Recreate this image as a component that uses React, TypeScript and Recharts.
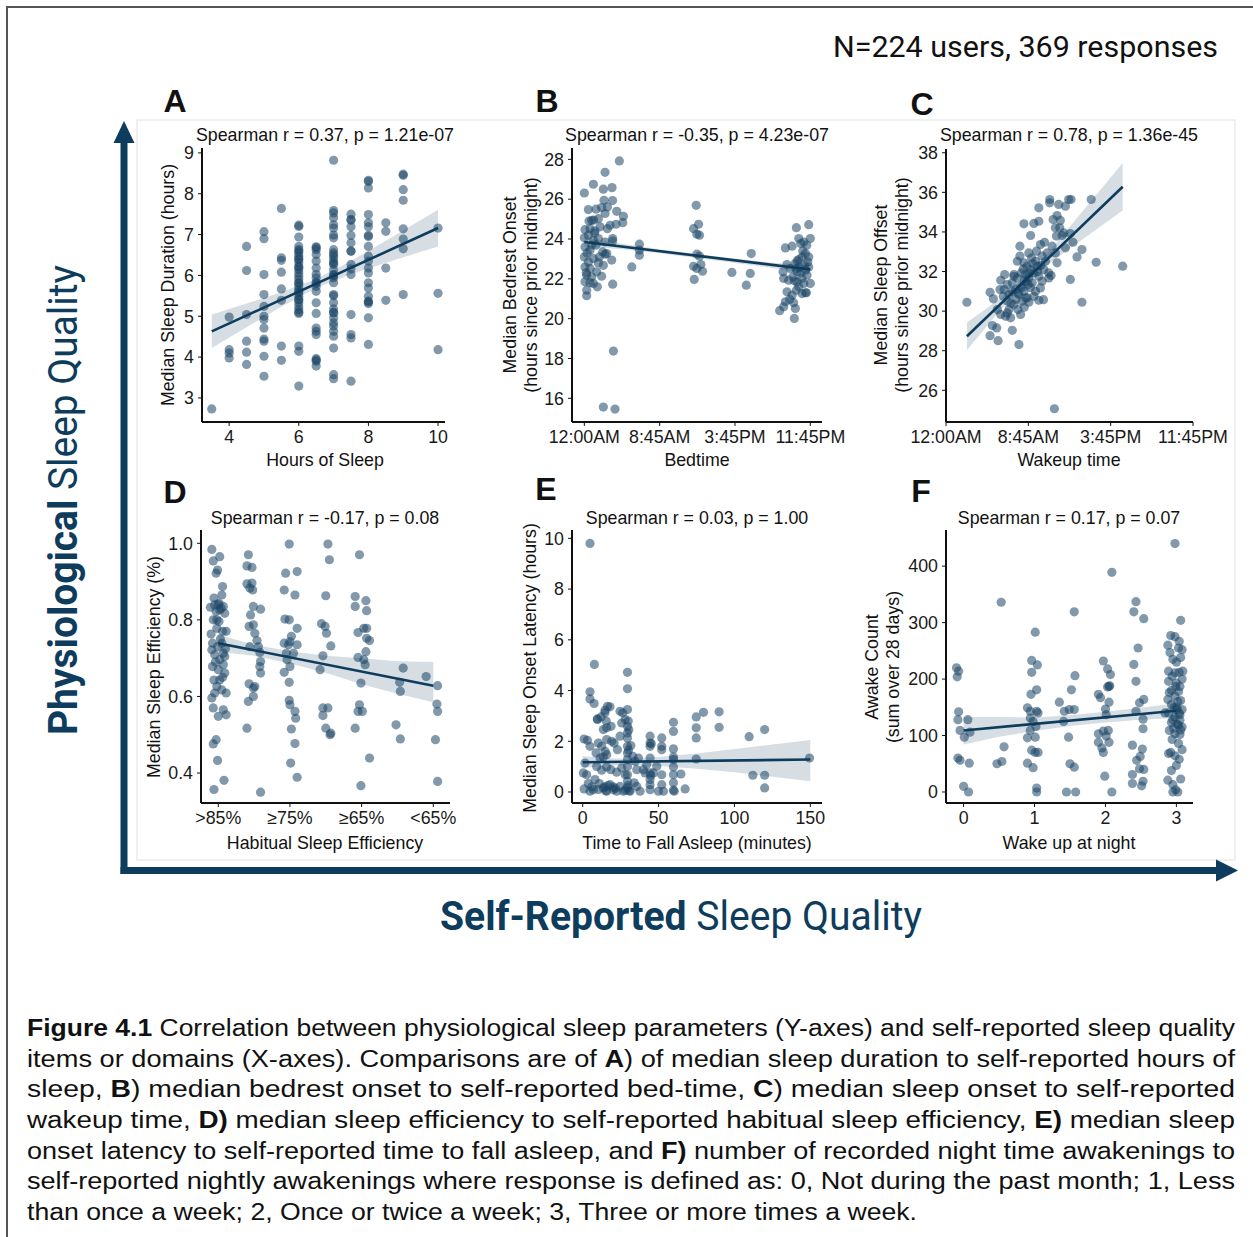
import React from 'react';
import { ScatterChart, Scatter, XAxis, YAxis } from 'recharts';

const NAVY = '#0e3c5d';
const DOT = '#1b4566';
const SANS = '"Liberation Sans", Arial, Helvetica, sans-serif';
const ROBOTO = 'Roboto, "Liberation Sans", sans-serif';
const FS = 17.8;

// A: hours of sleep vs median sleep duration
const A_POINTS: [number, number][] = [
  [3.5, 2.73], [4, 4.18], [4, 4.1], [4, 3.98], [4, 4.98],
  [4.5, 6.71], [4.5, 6.12], [4.5, 5.04], [4.5, 4.39], [4.5, 4.12], [4.5, 3.82],
  [5, 7.07], [5, 6.9], [5, 6.02], [5, 5.53], [5, 5.24], [5, 5.0], [5, 4.92], [5, 4.71], [5, 4.44], [5, 4.39], [5, 4.02], [5, 3.53],
  [5.5, 7.64], [5.5, 6.43], [5.5, 6.37], [5.5, 6.08], [5.5, 5.67], [5.5, 5.39], [5.5, 4.27], [5.5, 3.92],
  [6, 7.23], [6, 7.2], [6, 6.94], [6, 6.71], [6, 6.63], [6, 6.6], [6, 6.55], [6, 6.47], [6, 6.4], [6, 6.39], [6, 6.31], [6, 6.22], [6, 6.2],
  [6, 6.14], [6, 6.06], [6, 5.98], [6, 5.9], [6, 5.82], [6, 5.8], [6, 5.73], [6, 5.65], [6, 5.6], [6, 5.57], [6, 5.49], [6, 5.41], [6, 5.4],
  [6, 5.33], [6, 5.24], [6, 5.16], [6, 5.1], [6, 5.07], [6, 4.27], [6, 4.14], [6, 3.29],
  [6.5, 6.7], [6.5, 6.68], [6.5, 6.63], [6.5, 6.51], [6.5, 6.35], [6.5, 6.18], [6.5, 6.02], [6.5, 5.94], [6.5, 5.83], [6.5, 5.8],
  [6.5, 5.73], [6.5, 5.61], [6.5, 5.33], [6.5, 5.07], [6.5, 4.71], [6.5, 4.63], [6.5, 4.55], [6.5, 3.96], [6.5, 3.93], [6.5, 3.9], [6.5, 3.78],
  [7, 8.82], [7, 7.59], [7, 7.53], [7, 7.41], [7, 7.24], [7, 7.16], [7, 6.99], [7, 6.92], [7, 6.63], [7, 6.55], [7, 6.5], [7, 6.43],
  [7, 6.35], [7, 6.3], [7, 6.27], [7, 6.14], [7, 6.02], [7, 6.0], [7, 5.94], [7, 5.82], [7, 5.53], [7, 5.5], [7, 5.33], [7, 5.18],
  [7, 5.1], [7, 5.08], [7, 4.96], [7, 4.84], [7, 4.76], [7, 4.63], [7, 4.51], [7, 4.22], [7, 3.57], [7, 3.47],
  [7.5, 7.5], [7.5, 7.37], [7.5, 7.35], [7.5, 7.19], [7.5, 6.98], [7.5, 6.8], [7.5, 6.6], [7.5, 6.59], [7.5, 6.27], [7.5, 6.16],
  [7.5, 6.02], [7.5, 5.04], [7.5, 4.55], [7.5, 4.47], [7.5, 3.41],
  [8, 8.33], [8, 8.3], [8, 8.14], [8, 7.49], [8, 7.29], [8, 7.19], [8, 6.98], [8, 6.95], [8, 6.71], [8, 6.47], [8, 6.35], [8, 6.18],
  [8, 6.06], [8, 5.82], [8, 5.69], [8, 5.49], [8, 5.37], [8, 5.35], [8, 5.31], [8, 4.96], [8, 4.31],
  [8.5, 7.29], [8.5, 7.08], [8.5, 6.18], [8.5, 5.39],
  [9, 8.48], [9, 8.45], [9, 8.1], [9, 7.84], [9, 7.14], [9, 6.89], [9, 6.65], [9, 5.53],
  [10, 7.16], [10, 5.56], [10, 4.18],
];
const A_FIT: [number, number][] = [[3.5, 4.63], [10, 7.16]];
const A_BAND: [number, number, number][] = [
  [3.5, 4.22, 5.04], [4.5, 4.73, 5.31], [5.5, 5.23, 5.59], [6.5, 5.69, 5.91],
  [7.5, 6.03, 6.35], [8.5, 6.31, 6.85], [10, 6.71, 7.61],
];

// B: bedtime (hours) vs median bedrest onset
const B_POINTS: [number, number][] = [
  [0, 26.31], [0.96, 26.75], [2.2, 27.35], [3.72, 27.92], [2.02, 26.5], [2.94, 26.58], [2.09, 25.94], [3.0, 25.93],
  [0.43, 25.48], [1.24, 25.5], [1.84, 25.58], [2.45, 25.61], [3.44, 25.39], [4.15, 25.14], [0.78, 24.94], [1.49, 25.02],
  [2.2, 25.28], [2.73, 24.69], [3.37, 24.74], [4.08, 24.82], [0.07, 24.47], [0.6, 24.52], [1.13, 24.41], [1.67, 24.61],
  [2.45, 24.52], [0, 24.06], [0.43, 24.19], [0.96, 23.94], [1.49, 24.02], [2.2, 23.85], [3.01, 24.02], [3.01, 23.9],
  [0.07, 23.6], [0.6, 23.44], [1.24, 23.69], [1.95, 23.35], [2.38, 23.27], [0, 23.1], [0.43, 22.85], [0.96, 23.02],
  [1.49, 22.8], [2.2, 23.24], [2.91, 22.94], [0.07, 22.6], [0.6, 22.52], [1.31, 22.35], [2.02, 22.68], [0.25, 22.18],
  [0.78, 22.1], [1.84, 22.13], [0.07, 21.85], [0.96, 21.77], [1.38, 21.6], [3.01, 21.73], [0.25, 21.43], [0.25, 21.15],
  [0.5, 24.9], [1.0, 24.95], [0.3, 23.3], [0.8, 23.7], [1.1, 24.3], [0.2, 22.3], [1.6, 23.1], [0.6, 21.8],
  [3.09, 18.37], [2.02, 15.56], [3.26, 15.46],
  [5.04, 22.6], [5.85, 23.74], [5.85, 23.44], [5.85, 23.19],
  [11.6, 24.52], [11.88, 25.69], [12.13, 24.74], [11.95, 24.24], [12.23, 24.19], [11.6, 22.63], [11.95, 22.52],
  [12.38, 22.72], [11.67, 21.97], [12.23, 23.14], [11.95, 23.24], [12.55, 22.38],
  [15.67, 22.32], [17.62, 22.27], [17.2, 21.68], [17.73, 23.27],
  [21.35, 23.55], [22.06, 23.64], [22.52, 24.57], [23.83, 24.72], [22.77, 24.02], [23.3, 23.85], [24.0, 24.02],
  [22.98, 23.77], [23.62, 23.69], [21.1, 22.35], [21.52, 22.72], [21.88, 22.52], [22.41, 22.77], [22.77, 22.97],
  [23.12, 23.1], [23.48, 23.27], [23.83, 23.1], [21.17, 22.02], [21.7, 21.93], [22.16, 22.1], [22.59, 21.85],
  [23.12, 22.02], [23.65, 22.18], [24.0, 21.77], [21.52, 21.35], [22.06, 21.18], [22.52, 21.43], [23.12, 21.26],
  [23.58, 21.3], [21.35, 20.85], [21.81, 20.96], [22.23, 20.8], [20.74, 20.4], [21.17, 20.6], [22.41, 20.51],
  [22.3, 20.01], [22.87, 22.6], [23.37, 22.68], [23.83, 22.6], [22.59, 22.35], [23.48, 22.43], [23.73, 22.85],
  [23.3, 21.77], [22.77, 21.6], [23.48, 21.3], [22.6, 22.9], [23.0, 22.3], [22.3, 21.9], [23.2, 23.4], [22.5, 22.5],
];
const B_FIT: [number, number][] = [[0, 23.85], [24, 22.47]];
const B_BAND: [number, number, number][] = [
  [0, 23.62, 24.08], [4, 23.48, 23.76], [8, 23.28, 23.48], [12, 23.04, 23.24],
  [16, 22.8, 23.02], [20, 22.55, 22.81], [24, 22.26, 22.68],
];

// C: wakeup time (hours) vs median sleep offset
const C_POINTS: [number, number][] = [
  [2.03, 30.45], [4.28, 30.95], [4.6, 30.62], [4.51, 29.27], [4.93, 29.15], [4.28, 28.76], [5.06, 28.51], [6.44, 29.03],
  [7.09, 28.31], [10.53, 25.07], [5.32, 31.56], [5.7, 31.85], [5.25, 31.09], [5.57, 30.75], [5.96, 30.5], [6.12, 30.08],
  [4.99, 30.08], [5.32, 29.83], [5.8, 29.74], [6.28, 29.66], [6.6, 31.85], [6.44, 31.43], [6.93, 31.68], [6.77, 31.09],
  [7.25, 31.26], [7.09, 30.84], [7.57, 31.0], [7.41, 30.5], [7.89, 30.67], [6.6, 30.33], [6.99, 30.08], [6.12, 30.84],
  [7.18, 32.78], [6.93, 32.52], [7.57, 32.44], [7.18, 33.28], [7.5, 32.13], [7.89, 32.27], [7.73, 31.85], [8.22, 32.1],
  [8.05, 31.68], [8.38, 31.43], [8.54, 31.93], [8.86, 32.27], [9.02, 31.76], [9.18, 31.17], [8.7, 31.0], [8.05, 30.45],
  [9.02, 30.55], [7.57, 34.41], [8.22, 33.82], [8.54, 34.43], [9.02, 35.22], [9.02, 34.54], [9.18, 33.36], [9.34, 32.78],
  [9.57, 33.48], [9.67, 32.52], [9.83, 32.94], [10.08, 35.64], [10.08, 35.47], [9.99, 31.68], [10.21, 31.8], [10.31, 33.28],
  [10.41, 34.63], [10.63, 34.21], [10.79, 34.83], [11.11, 34.58], [10.95, 35.39], [11.6, 35.3], [11.92, 35.64], [12.15, 35.64],
  [10.73, 33.79], [11.28, 33.82], [11.6, 33.2], [12.08, 33.92], [12.34, 33.48], [12.08, 31.6], [12.73, 32.74], [13.21, 33.11],
  [13.21, 30.45], [14.11, 35.64], [14.59, 32.47], [17.17, 32.27], [11.05, 34.21], [11.44, 33.95], [10.63, 32.94], [10.79, 32.44],
  [9.5, 32.1], [9.34, 31.51], [8.79, 33.03], [8.05, 32.94], [8.31, 32.69], [6.6, 31.76], [5.96, 31.34], [5.64, 31.09],
  [6.44, 31.0], [8.54, 30.75], [9.47, 30.58], [7.25, 29.83], [5.96, 29.91], [7.99, 31.34], [7.73, 30.67], [7.63, 31.56],
  [7.31, 31.93], [8.7, 32.52], [9.99, 31.93], [7.4, 31.2], [7.8, 31.5], [8.1, 31.9], [8.4, 32.4], [7.0, 30.9],
  [6.8, 30.6], [8.9, 32.0], [7.6, 30.2], [6.3, 30.4], [8.2, 31.2], [9.2, 32.3],
];
const C_FIT: [number, number][] = [[2.03, 28.73], [17.17, 36.28]];
const C_BAND: [number, number, number][] = [
  [2.03, 28.03, 29.43], [4, 29.26, 30.16], [6, 30.49, 30.93], [8, 31.56, 31.86],
  [10, 32.4, 33.0], [12, 33.15, 34.25], [14, 33.9, 35.5], [17.17, 35.08, 37.48],
];

// D: habitual sleep efficiency category vs median sleep efficiency
const D_POINTS: [number, number][] = [
  [-0.09, 0.984], [-0.07, 0.954], [0.02, 0.965], [-0.01, 0.93], [-0.03, 0.922], [0.06, 0.887], [-0.06, 0.857], [-0.11, 0.833],
  [-0.05, 0.839], [0.01, 0.843], [0.07, 0.835], [-0.07, 0.8], [0.01, 0.796], [0.09, 0.817], [-0.1, 0.763], [0.06, 0.77],
  [0.11, 0.77], [-0.08, 0.739], [-0.01, 0.73], [0.05, 0.739], [-0.09, 0.722], [-0.05, 0.709], [0.02, 0.696], [0.09, 0.704],
  [-0.08, 0.678], [0, 0.67], [0.07, 0.683], [-0.06, 0.643], [0.02, 0.643], [0.09, 0.661], [-0.02, 0.626], [0.05, 0.617],
  [0.11, 0.609], [-0.09, 0.596], [-0.05, 0.609], [-0.07, 0.57], [0, 0.548], [0.07, 0.565], [0.11, 0.552], [-0.03, 0.487],
  [-0.07, 0.476], [-0.01, 0.433], [-0.06, 0.357], [0.08, 0.381], [0.07, 0.713], [-0.02, 0.778], [0.02, 0.826], [0.05, 0.865],
  [-0.03, 0.822], [0.0, 0.84], [0.04, 0.83], [-0.02, 0.8], [0.03, 0.75], [-0.04, 0.69], [0.06, 0.65], [0.1, 0.725],
  [0.42, 0.97], [0.4, 0.941], [0.47, 0.937], [0.4, 0.894], [0.47, 0.896], [0.44, 0.883], [0.48, 0.878], [0.49, 0.835],
  [0.45, 0.813], [0.59, 0.828], [0.43, 0.783], [0.49, 0.787], [0.51, 0.765], [0.54, 0.746], [0.44, 0.73], [0.56, 0.73],
  [0.58, 0.715], [0.59, 0.691], [0.58, 0.678], [0.59, 0.661], [0.43, 0.633], [0.49, 0.622], [0.51, 0.626], [0.42, 0.587],
  [0.49, 0.6], [0.4, 0.517], [0.59, 0.35],
  [0.99, 0.998], [0.94, 0.922], [1.1, 0.926], [0.92, 0.878], [1.07, 0.865], [0.93, 0.802], [0.99, 0.8], [1.1, 0.778],
  [0.92, 0.739], [0.98, 0.735], [1.0, 0.743], [1.1, 0.735], [1.02, 0.757], [0.95, 0.713], [1.05, 0.713], [0.96, 0.696],
  [1.0, 0.678], [0.92, 0.663], [0.99, 0.637], [0.99, 0.59], [1.0, 0.578], [1.07, 0.561], [1.08, 0.543], [1.02, 0.515],
  [1.07, 0.477], [1.01, 0.426], [1.1, 0.389],
  [1.53, 0.998], [1.55, 0.957], [1.5, 0.863], [1.44, 0.79], [1.49, 0.783], [1.51, 0.765], [1.57, 0.732], [1.46, 0.706],
  [1.42, 0.67], [1.46, 0.57], [1.53, 0.57], [1.46, 0.55], [1.5, 0.517], [1.56, 0.5], [1.57, 0.504],
  [1.97, 0.97], [1.91, 0.861], [1.91, 0.835], [2.06, 0.85], [2.07, 0.824], [2.03, 0.778], [2.07, 0.778], [1.95, 0.767],
  [2.07, 0.752], [2.11, 0.746], [2.06, 0.717], [1.95, 0.702], [2.03, 0.696], [2.05, 0.683], [1.99, 0.635], [1.97, 0.578],
  [1.95, 0.561], [2.01, 0.561], [1.91, 0.517], [2.11, 0.439], [1.99, 0.367],
  [2.58, 0.674], [2.53, 0.637], [2.54, 0.613], [2.9, 0.652], [2.48, 0.526], [2.54, 0.489],
  [3.06, 0.628], [3.05, 0.58], [3.06, 0.561], [3.03, 0.487], [3.06, 0.378],
];
const D_TICK_LABELS = ['>85%', '≥75%', '≥65%', '<65%'];
const D_FIT: [number, number][] = [[0, 0.739], [3, 0.628]];
const D_BAND: [number, number, number][] = [
  [0, 0.717, 0.761], [0.5, 0.706, 0.735], [1, 0.686, 0.718], [1.5, 0.662, 0.706],
  [2, 0.632, 0.7], [2.5, 0.607, 0.692], [3, 0.585, 0.69],
];

// E: time to fall asleep (min) vs median sleep onset latency
const E_POINTS: [number, number][] = [
  [4.8, 9.8], [7.7, 5.03], [4.8, 3.95], [4.8, 3.67], [7.5, 3.49], [0.9, 2.09], [3.1, 2.04], [4.8, 1.8], [1.5, 1.14],
  [0.4, 0.75], [2.6, 0.68], [0.9, 0.12], [3.7, 0.33], [4.8, 0.03], [7.0, 0.09], [9.7, 2.88], [12.1, 2.96], [14.7, 3.22],
  [14.7, 3.12], [16.3, 3.38], [18.0, 3.36], [9.7, 2.86], [13.6, 2.46], [15.8, 2.53], [10.3, 1.93], [12.5, 1.8], [15.8, 2.07],
  [8.8, 1.54], [11.4, 1.34], [13.6, 1.38], [15.8, 1.47], [9.2, 1.01], [12.5, 0.86], [15.8, 0.99], [18.5, 0.88], [8.1, 0.49],
  [11.0, 0.33], [13.6, 0.16], [15.8, 0.03], [18.0, 0.29], [20.2, 0.09], [22.4, 0.03], [24.6, 0.22], [26.8, 0.03], [18.7, 2.59],
  [19.1, 2.0], [20.7, 1.93], [22.9, 1.67], [24.6, 2.2], [25.7, 2.72], [26.4, 3.12], [24.6, 3.18], [22.4, 0.78], [25.7, 0.95],
  [28.0, 0.68], [29.5, 4.72], [29.5, 4.07], [29.5, 3.25], [28.0, 2.86], [29.5, 2.59], [29.5, 2.33], [29.5, 2.13], [29.5, 1.8],
  [29.5, 1.54], [29.5, 1.28], [29.5, 1.01], [29.5, 0.68], [29.5, 0.42], [29.5, 0.16], [31.2, 0.03], [28.0, 0.07], [31.7, 1.83],
  [33.0, 1.41], [34.5, 1.21], [35.6, 0.88], [36.7, 1.34], [37.8, 0.03], [33.9, 0.36], [35.6, 0.22], [40.0, 0.88], [41.1, 0.75],
  [42.2, 1.08], [44.4, 2.2], [44.4, 1.93], [44.4, 1.8], [44.4, 1.34], [44.4, 0.75], [44.4, 0.49], [44.4, 0.29], [44.4, 0.09],
  [46.6, 0.75], [49.9, 0.03], [52.1, 2.13], [52.1, 1.8], [52.1, 1.67], [52.1, 0.68], [52.1, 0.29], [53.2, 0.03], [48.8, 1.01],
  [59.8, 2.75], [59.8, 2.39], [59.8, 1.7], [59.8, 1.38], [59.8, 1.28], [59.8, 0.99], [59.8, 0.68], [59.8, 0.36], [59.8, 0.07],
  [60.3, 0.03], [64.7, 0.71], [67.5, 0.12], [74.8, 2.96], [74.8, 2.53], [74.8, 2.13], [74.8, 1.3], [79.6, 3.14], [89.9, 3.16],
  [89.9, 2.55], [109.7, 2.18], [112.1, 0.66], [119.9, 2.46], [119.9, 0.66], [119.9, 0.16], [149.5, 1.34],
  [14.5, 0.2], [15.2, 0.05], [16.5, 0.25], [20.0, 0.2], [30.5, 0.05], [29.8, 0.25], [30.2, 1.65], [30.0, 2.8], [14.8, 1.6],
  [10.5, 0.1], [6.0, 0.2], [21.5, 0.15], [44.8, 0.65], [45.2, 1.9], [15.5, 2.8], [30.4, 2.45],
];
const E_FIT: [number, number][] = [[0, 1.17], [150, 1.28]];
const E_BAND: [number, number, number][] = [
  [0, 0.95, 1.42], [15, 1.03, 1.33], [30, 1.06, 1.31], [50, 1.02, 1.38],
  [75, 0.92, 1.52], [100, 0.78, 1.7], [125, 0.6, 1.87], [150, 0.42, 2.05],
];

// F: wake up at night (0-3) vs awake count
const F_POINTS: [number, number][] = [
  [-0.1, 220], [-0.07, 214], [-0.09, 204], [-0.07, 142], [-0.08, 128], [-0.05, 109], [0.06, 128], [0.09, 106], [0.01, 97],
  [-0.08, 60], [-0.05, 56], [0.08, 51], [0, 10], [0.07, 0],
  [0.53, 336], [0.47, 50], [0.54, 54], [0.57, 80],
  [1.01, 283], [0.96, 233], [0.96, 212], [1.04, 225], [1.03, 181], [0.95, 173], [0.9, 149], [0.94, 143], [1.03, 143],
  [1.05, 140], [0.94, 131], [0.98, 125], [1.02, 116], [0.94, 109], [0.9, 96], [1.01, 97], [0.96, 74], [1.01, 70], [1.05, 70],
  [0.9, 51], [0.98, 43], [1.03, 7], [1.03, 0],
  [1.35, 159], [1.42, 143], [1.49, 146], [1.41, 125], [1.48, 97], [1.56, 146], [1.52, 181], [1.57, 206], [1.56, 319],
  [1.5, 50], [1.56, 44], [1.45, 0], [1.58, 0],
  [1.97, 232], [2.03, 218], [2.07, 208], [2.05, 187], [1.9, 173], [1.93, 167], [2.0, 147], [2.05, 159], [2.01, 137],
  [1.9, 103], [1.97, 108], [2.04, 109], [2.01, 99], [1.9, 88], [1.95, 78], [1.97, 70], [2.05, 88], [2.09, 389], [2.06, 188],
  [1.99, 28], [2.09, 0], [2.03, 186],
  [2.43, 337], [2.4, 319], [2.54, 307], [2.46, 255], [2.4, 226], [2.43, 196], [2.54, 164], [2.43, 143], [2.48, 158],
  [2.53, 129], [2.53, 112], [2.38, 83], [2.52, 76], [2.49, 63], [2.44, 56], [2.48, 41], [2.54, 40], [2.38, 31], [2.38, 15],
  [2.51, 11], [2.53, 19],
  [2.98, 440], [3.06, 304], [2.92, 277], [2.98, 275], [3.04, 267], [2.88, 260], [3.03, 255], [3.08, 252], [2.95, 235],
  [3.0, 230], [3.06, 238], [2.89, 214], [2.98, 211], [3.04, 212], [2.94, 205], [2.89, 196], [3.0, 193], [3.08, 200],
  [2.93, 180], [3.03, 178], [2.98, 170], [2.88, 164], [3.06, 162], [2.93, 155], [3.01, 149], [3.08, 146], [2.89, 140],
  [2.98, 133], [3.05, 137], [2.93, 123], [3.03, 118], [3.08, 115], [2.9, 109], [2.98, 103], [3.05, 102], [2.94, 93],
  [3.03, 86], [3.08, 75], [2.89, 68], [2.98, 64], [3.04, 58], [2.93, 38], [3.0, 47], [2.88, 21], [2.95, 13], [3.06, 23],
  [2.99, 4], [3.02, 0], [2.95, 0], [3.09, 214], [2.84, 140], [2.91, 247], [2.99, 187], [3.0, 146], [2.96, 113], [3.05, 127],
  [2.9, 176], [3.05, 187], [3.02, 160], [2.97, 150], [3.04, 140], [2.95, 128], [3.01, 120], [3.06, 110], [2.92, 70],
];
const F_FIT: [number, number][] = [[0, 109], [3, 144]];
const F_BAND: [number, number, number][] = [
  [0, 84, 133], [0.5, 98, 133], [1, 108, 132], [1.5, 117, 136],
  [2, 123, 142], [2.5, 128, 149], [3, 131, 157],
];

const B_TICK_LABELS: Record<number, string> = { 0: '12:00AM', 8: '8:45AM', 16: '3:45PM', 24: '11:45PM' };

const toXY = (pts: [number, number][]) => pts.map(([x, y]) => ({ x, y }));
const bandPoly = (band: [number, number, number][]) => [
  ...band.map(([x, , hi]) => ({ x, y: hi })),
  ...band.slice().reverse().map(([x, lo]) => ({ x, y: lo })),
];

const YW = 60;
const MT = 8;
const MR = 40;
const XH = 30;

const dot = (p: any) => <circle cx={p.cx} cy={p.cy} r={4.6} fill={DOT} fillOpacity={0.55} />;
const noShape = () => <g />;

const tickStyle = { fontSize: FS, fill: '#1a1a1a', fontFamily: SANS };

function Panel({ box, xDomain, yDomain, xTicks, yTicks, xFmt, yFmt, points, fit, band }: any) {
  const [px0, px1, py0, py1] = box;
  const left = px0 - YW;
  const top = py0 - MT;
  const width = px1 - left + MR;
  const height = py1 - py0 + MT + XH + 2;
  return (
    <div style={{ position: 'absolute', left, top }}>
      <ScatterChart width={width} height={height} margin={{ top: MT, right: MR, bottom: 2, left: 0 }}>
        <XAxis
          type="number"
          dataKey="x"
          domain={xDomain}
          ticks={xTicks}
          tickFormatter={xFmt}
          allowDataOverflow
          interval={0}
          height={XH}
          tick={tickStyle}
          tickSize={4}
          tickMargin={4}
          axisLine={{ stroke: '#111', strokeWidth: 2 }}
          tickLine={{ stroke: '#111' }}
        />
        <YAxis
          type="number"
          dataKey="y"
          domain={yDomain}
          ticks={yTicks}
          tickFormatter={yFmt}
          allowDataOverflow
          interval={0}
          width={YW}
          tick={tickStyle}
          tickSize={4}
          tickMargin={4}
          axisLine={{ stroke: '#111', strokeWidth: 2 }}
          tickLine={{ stroke: '#111' }}
        />
        <Scatter data={toXY(points)} shape={dot} isAnimationActive={false} />
        <Scatter
          data={bandPoly(band)}
          shape={noShape}
          line={{ stroke: 'none', fill: NAVY, fillOpacity: 0.17 }}
          isAnimationActive={false}
        />
        <Scatter
          data={toXY(fit)}
          shape={noShape}
          line={{ stroke: NAVY, strokeWidth: 2.6 }}
          isAnimationActive={false}
        />
      </ScatterChart>
    </div>
  );
}

const T = (props: any) => <text fontFamily={SANS} fill="#111" {...props} />;

function YLabel({ x, y, lines }: { x: number[]; y: number; lines: string[] }) {
  return (
    <>
      {lines.map((s, i) => (
        <T key={i} fontSize={FS} textAnchor="middle" dominantBaseline="central" transform={`translate(${x[i]},${y}) rotate(-90)`}>
          {s}
        </T>
      ))}
    </>
  );
}

const CAPTION: { t: string; b?: boolean }[][] = [
  [{ t: 'Figure 4.1', b: true }, { t: ' Correlation between physiological sleep parameters (Y-axes) and self-reported sleep quality' }],
  [{ t: 'items or domains (X-axes). Comparisons are of ' }, { t: 'A', b: true }, { t: ') of median sleep duration to self-reported hours of' }],
  [{ t: 'sleep, ' }, { t: 'B', b: true }, { t: ') median bedrest onset to self-reported bed-time, ' }, { t: 'C', b: true }, { t: ') median sleep onset to self-reported' }],
  [{ t: 'wakeup time, ' }, { t: 'D)', b: true }, { t: ' median sleep efficiency to self-reported habitual sleep efficiency, ' }, { t: 'E)', b: true }, { t: ' median sleep' }],
  [{ t: 'onset latency to self-reported time to fall asleep, and ' }, { t: 'F)', b: true }, { t: ' number of recorded night time awakenings to' }],
  [{ t: 'self-reported nightly awakenings where response is defined as: 0, Not during the past month; 1, Less' }],
  [{ t: 'than once a week; 2, Once or twice a week; 3, Three or more times a week.' }],
];
const CAPTION_WIDTHS = [1208, 1208, 1208, 1208, 1208, 1208, 890];

export default function App() {
  return (
    <div style={{ position: 'absolute', left: 0, top: 0, width: 1253, height: 1237, background: '#fff', overflow: 'hidden' }}>
      <svg width={1253} height={1237} style={{ position: 'absolute', left: 0, top: 0 }}>
        <rect x={7} y={7} width={1260} height={1250} fill="none" stroke="#555" strokeWidth={2} />
        <rect x={137} y={120} width={1098} height={740} fill="none" stroke="#e2e2e2" strokeWidth={1} />
        {/* axes arrows */}
        <rect x={120.5} y={140} width={7} height={734} fill={NAVY} />
        <polygon points="113.5,143 134.5,143 124,121" fill={NAVY} />
        <rect x={120.5} y={867} width={1097} height={7} fill={NAVY} />
        <polygon points="1216,859.5 1216,881.5 1238,870.5" fill={NAVY} />
        <text
          x={0}
          y={0}
          transform="translate(77,500) rotate(-90)"
          textAnchor="middle"
          fontFamily={ROBOTO}
          fontSize={40}
          fill={NAVY}
          textLength={470}
          lengthAdjust="spacingAndGlyphs"
        >
          <tspan fontWeight="bold">Physiological</tspan>
          <tspan> Sleep Quality</tspan>
        </text>
        <text
          x={681}
          y={930}
          textAnchor="middle"
          fontFamily={ROBOTO}
          fontSize={40}
          fill={NAVY}
          textLength={482}
          lengthAdjust="spacingAndGlyphs"
        >
          <tspan fontWeight="bold">Self-Reported</tspan>
          <tspan> Sleep Quality</tspan>
        </text>
        <text x={1218} y={57} textAnchor="end" fontFamily={ROBOTO} fontSize={29} fill="#111" textLength={385} lengthAdjust="spacingAndGlyphs">
          N=224 users, 369 responses
        </text>

        {/* panel letters */}
        {[
          ['A', 175, 112], ['B', 547, 112], ['C', 922, 115],
          ['D', 175, 503], ['E', 546, 500], ['F', 921, 502],
        ].map(([l, x, y]) => (
          <T key={l as string} x={x} y={y} fontSize={32} fontWeight="bold" textAnchor="middle">{l}</T>
        ))}

        {/* titles */}
        <T x={325} y={141} fontSize={FS} textAnchor="middle">Spearman r = 0.37, p = 1.21e-07</T>
        <T x={697} y={141} fontSize={FS} textAnchor="middle">Spearman r = -0.35, p = 4.23e-07</T>
        <T x={1069} y={141} fontSize={FS} textAnchor="middle">Spearman r = 0.78, p = 1.36e-45</T>
        <T x={325} y={524} fontSize={FS} textAnchor="middle">Spearman r = -0.17, p = 0.08</T>
        <T x={697} y={524} fontSize={FS} textAnchor="middle">Spearman r = 0.03, p = 1.00</T>
        <T x={1069} y={524} fontSize={FS} textAnchor="middle">Spearman r = 0.17, p = 0.07</T>

        {/* x labels */}
        <T x={325} y={466} fontSize={FS} textAnchor="middle">Hours of Sleep</T>
        <T x={697} y={466} fontSize={FS} textAnchor="middle">Bedtime</T>
        <T x={1069} y={466} fontSize={FS} textAnchor="middle">Wakeup time</T>
        <T x={325} y={849} fontSize={FS} textAnchor="middle">Habitual Sleep Efficiency</T>
        <T x={697} y={849} fontSize={FS} textAnchor="middle">Time to Fall Asleep (minutes)</T>
        <T x={1069} y={849} fontSize={FS} textAnchor="middle">Wake up at night</T>

        {/* y labels */}
        <YLabel x={[168]} y={285} lines={['Median Sleep Duration (hours)']} />
        <YLabel x={[510, 531]} y={285} lines={['Median Bedrest Onset', '(hours since prior midnight)']} />
        <YLabel x={[881, 902]} y={285} lines={['Median Sleep Offset', '(hours since prior midnight)']} />
        <YLabel x={[154]} y={667} lines={['Median Sleep Efficiency (%)']} />
        <YLabel x={[530]} y={668} lines={['Median Sleep Onset Latency (hours)']} />
        <YLabel x={[872, 893]} y={667} lines={['Awake Count', '(sum over 28 days)']} />

        {/* caption */}
        {CAPTION.map((line, i) => (
          <text
            key={i}
            x={27}
            y={1036 + i * 30.67}
            fontFamily={SANS}
            fontSize={23.5}
            fill="#111"
            textLength={CAPTION_WIDTHS[i]}
            lengthAdjust="spacingAndGlyphs"
          >
            {line.map((seg, j) => (
              <tspan key={j} fontWeight={seg.b ? 'bold' : 'normal'}>{seg.t}</tspan>
            ))}
          </text>
        ))}
      </svg>

      <Panel
        box={[202, 445, 148, 422]}
        xDomain={[3.22, 10.2]}
        yDomain={[2.41, 9.12]}
        xTicks={[4, 6, 8, 10]}
        yTicks={[3, 4, 5, 6, 7, 8, 9]}
        points={A_POINTS}
        fit={A_FIT}
        band={A_BAND}
      />
      <Panel
        box={[572, 822, 148, 422]}
        xDomain={[-1.31, 25.24]}
        yDomain={[14.81, 28.57]}
        xTicks={[0, 8, 16, 24]}
        xFmt={(v: number) => B_TICK_LABELS[v]}
        yTicks={[16, 18, 20, 22, 24, 26, 28]}
        points={B_POINTS}
        fit={B_FIT}
        band={B_BAND}
      />
      <Panel
        box={[946, 1193, 149, 422]}
        xDomain={[0, 24]}
        yDomain={[24.4, 38.19]}
        xTicks={[0, 8, 16, 24]}
        xFmt={(v: number) => B_TICK_LABELS[v]}
        yTicks={[26, 28, 30, 32, 34, 36, 38]}
        points={C_POINTS}
        fit={C_FIT}
        band={C_BAND}
      />
      <Panel
        box={[201, 450, 530, 803]}
        xDomain={[-0.241, 3.233]}
        yDomain={[0.3217, 1.0347]}
        xTicks={[0, 1, 2, 3]}
        xFmt={(v: number) => D_TICK_LABELS[v]}
        yTicks={[0.4, 0.6, 0.8, 1.0]}
        yFmt={(v: number) => v.toFixed(1)}
        points={D_POINTS}
        fit={D_FIT}
        band={D_BAND}
      />
      <Panel
        box={[572, 822, 530, 803]}
        xDomain={[-7.06, 157.7]}
        yDomain={[-0.434, 10.33]}
        xTicks={[0, 50, 100, 150]}
        yTicks={[0, 2, 4, 6, 8, 10]}
        points={E_POINTS}
        fit={E_FIT}
        band={E_BAND}
      />
      <Panel
        box={[946, 1193, 530, 803]}
        xDomain={[-0.248, 3.234]}
        yDomain={[-19.5, 464]}
        xTicks={[0, 1, 2, 3]}
        yTicks={[0, 100, 200, 300, 400]}
        points={F_POINTS}
        fit={F_FIT}
        band={F_BAND}
      />
    </div>
  );
}
